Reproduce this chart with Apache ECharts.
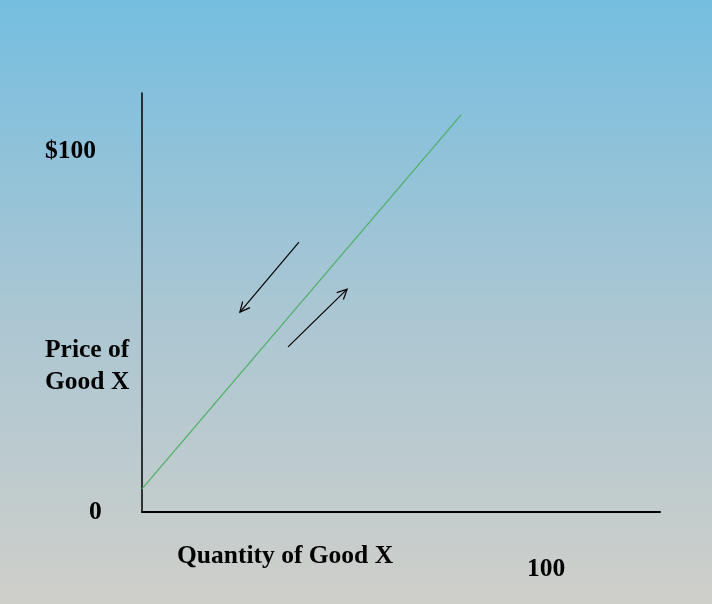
<!DOCTYPE html>
<html>
<head>
<meta charset="utf-8">
<script src="https://cdn.jsdelivr.net/npm/echarts@6/dist/echarts.min.js"></script>
<style>
  html, body { margin: 0; padding: 0; }
  #chart { width: 712px; height: 604px; }
</style>
</head>
<body>
<div id="chart"></div>
<script>
// supply curve (quantity, price) in axis units 0..100
const supplyLine = [[0, 5.5], [61.6, 94.8]];
// movement arrows along the curve: [from, to]
const arrowDown = [[30.3, 64.4], [18.9, 47.7]];
const arrowUp = [[28.2, 39.4], [39.6, 53.2]];
const arrows = [arrowDown, arrowUp];

const labelFont = 'bold 25.5px "Liberation Serif", "Times New Roman", serif';

const chart = echarts.init(document.getElementById('chart'));

// 画箭头：直线 + 开口箭头
function renderArrow(params, api) {
  const a = arrows[params.dataIndex];
  const p0 = api.coord(a[0]);
  const p1 = api.coord(a[1]);
  const ang = Math.atan2(p1[1] - p0[1], p1[0] - p0[0]);
  const len = 11, spread = 0.45;
  const h1 = [p1[0] - len * Math.cos(ang - spread), p1[1] - len * Math.sin(ang - spread)];
  const h2 = [p1[0] - len * Math.cos(ang + spread), p1[1] - len * Math.sin(ang + spread)];
  const style = { stroke: '#000', lineWidth: 1.2, fill: null };
  return {
    type: 'group',
    children: [
      { type: 'line', shape: { x1: p0[0], y1: p0[1], x2: p1[0], y2: p1[1] }, style },
      { type: 'polyline', shape: { points: [h1, p1, h2] }, style }
    ]
  };
}

chart.setOption({
  backgroundColor: {
    type: 'linear', x: 0, y: 0, x2: 0, y2: 1,
    colorStops: [
      { offset: 0, color: '#75bee0' },
      { offset: 0.5, color: '#a9c6d3' },
      { offset: 1, color: '#cfcfca' }
    ]
  },
  animation: false,
  grid: { left: 142, right: 52, top: 93, bottom: 92 },
  xAxis: {
    type: 'value', min: 0, max: 100,
    axisLine: { show: true, onZero: false, lineStyle: { color: '#000', width: 2 } },
    axisTick: { show: false }, axisLabel: { show: false }, splitLine: { show: false }
  },
  yAxis: {
    type: 'value', min: 0, max: 100,
    axisLine: { show: true, onZero: false, lineStyle: { color: '#000', width: 1.5 } },
    axisTick: { show: false }, axisLabel: { show: false }, splitLine: { show: false }
  },
  series: [
    {
      type: 'line',
      data: supplyLine,
      showSymbol: false,
      lineStyle: { color: '#4caf63', width: 1.2 }
    },
    {
      type: 'custom',
      renderItem: renderArrow,
      data: arrows.map((a, i) => i)
    }
  ],
  graphic: [
    { type: 'text', left: 45, top: 138, style: { text: '$100', font: labelFont, fill: '#000' } },
    { type: 'text', left: 45, top: 334, style: { text: 'Price of\nGood X', font: labelFont, lineHeight: 32, fill: '#000' } },
    { type: 'text', left: 89, top: 499, style: { text: '0', font: labelFont, fill: '#000' } },
    { type: 'text', left: 177, top: 543, style: { text: 'Quantity of Good X', font: labelFont, fill: '#000' } },
    { type: 'text', left: 527, top: 556, style: { text: '100', font: labelFont, fill: '#000' } }
  ]
});
</script>
</body>
</html>
